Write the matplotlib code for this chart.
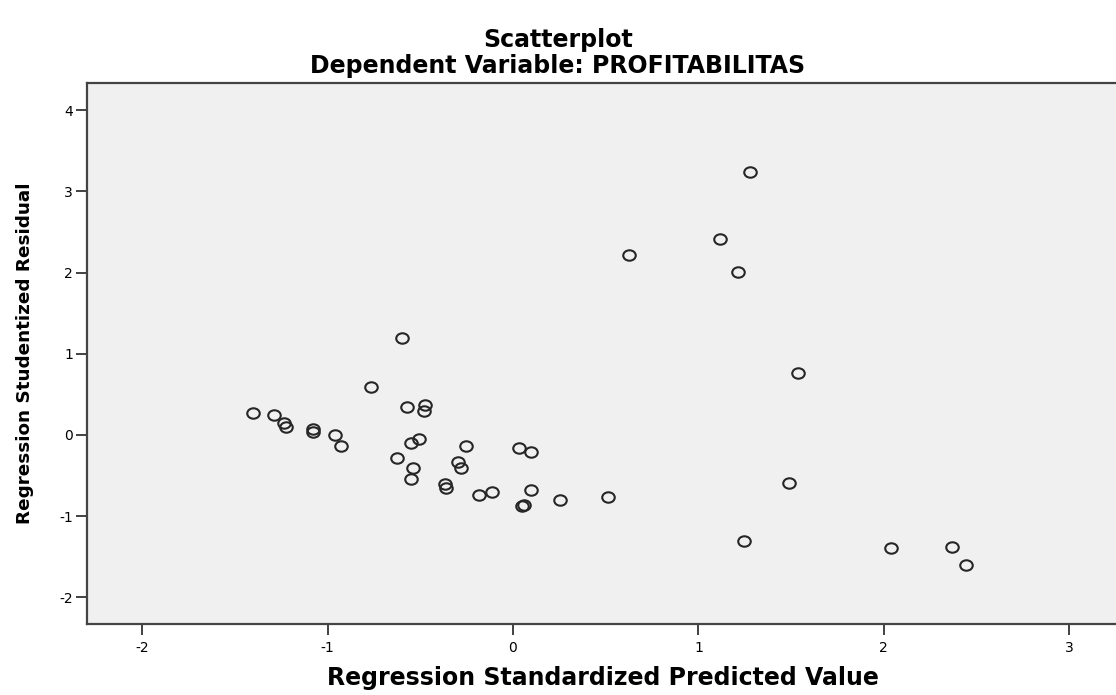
import matplotlib
matplotlib.use('Agg')
import matplotlib.pyplot as plt
from matplotlib.path import Path
from matplotlib.transforms import Affine2D

pred = [-1.404, -1.290, -1.236, -1.222, -1.081, -1.077, -0.961, -0.930,
        -0.764, -0.600, -0.571, -0.474, -0.481, -0.506, -0.548, -0.625,
        -0.537, -0.551, -0.254, -0.296, -0.281, -0.369, -0.362, -0.184,
        -0.114, 0.031, 0.099, 0.097, 0.050, 0.058, 0.256, 0.514,
        0.627, 1.119, 1.211, 1.276, 1.539, 1.486, 1.247, 2.038, 2.370, 2.443]
resid = [0.275, 0.250, 0.152, 0.095, 0.074, 0.037, -0.004, -0.132,
         0.588, 1.192, 0.342, 0.370, 0.300, -0.053, -0.102, -0.280,
         -0.403, -0.543, -0.136, -0.329, -0.403, -0.600, -0.654, -0.736,
         -0.699, -0.157, -0.210, -0.678, -0.875, -0.866, -0.805, -0.768,
         2.219, 2.417, 2.010, 3.243, 0.768, -0.596, -1.307, -1.397, -1.381, -1.607]

xticks = [-2, -1, 0, 1, 2, 3]
yticks = [-2, -1, 0, 1, 2, 3, 4]

plt.rcParams['font.family'] = ['DejaVu Sans']
plt.rcParams['axes.unicode_minus'] = False

# the original export is stretched sideways, so circles come out slightly wide
oval = Affine2D().scale(1.2, 1.0).transform_path(Path.unit_circle())

fig = plt.figure(figsize=(11.16, 6.95), dpi=100)
ax = fig.add_axes([0.078, 0.1022, 0.925, 0.7788])
ax.set_facecolor('#f0f0f0')

ax.plot(pred, resid, linestyle='none', marker=oval, markersize=9.0,
        markerfacecolor='none', markeredgecolor='#262626', markeredgewidth=1.5)

ax.set_xlim(-2.297, 3.27)
ax.set_ylim(-2.33, 4.34)
ax.set_xticks(xticks)
ax.set_yticks(yticks)
ax.tick_params(axis='both', direction='out', length=8, width=1.3,
               color='#333333', labelsize=10, labelcolor='black')
ax.tick_params(axis='x', pad=4)
ax.tick_params(axis='y', pad=2)

for side in ['left', 'bottom', 'top']:
    ax.spines[side].set_color('#444444')
    ax.spines[side].set_linewidth(1.6)
ax.spines['right'].set_visible(False)

ax.set_xlabel('Regression Standardized Predicted Value', fontsize=17,
              fontweight='bold', labelpad=8)
ax.set_ylabel('Regression Studentized Residual', fontsize=13.2,
              fontweight='bold', labelpad=18)

fig.text(0.5, 0.942, 'Scatterplot', ha='center', va='center',
         fontsize=17, fontweight='bold')
fig.text(0.5, 0.905, 'Dependent Variable: PROFITABILITAS', ha='center',
         va='center', fontsize=17, fontweight='bold')

plt.savefig('out.png', dpi=100)
